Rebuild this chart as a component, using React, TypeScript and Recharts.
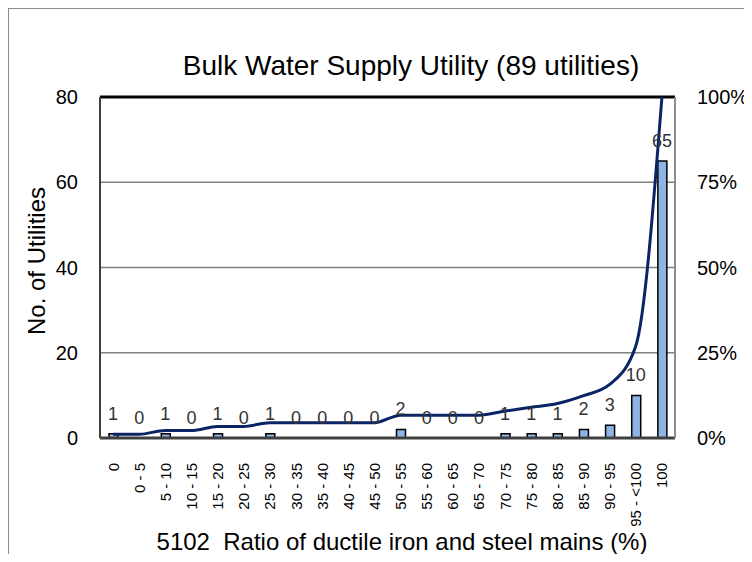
import {
  ComposedChart,
  Bar,
  Line,
  XAxis,
  YAxis,
  CartesianGrid,
  LabelList,
  ReferenceLine,
} from "recharts";

const categories = [
  "0", "0 - 5", "5 - 10", "10 - 15", "15 - 20", "20 - 25", "25 - 30", "30 - 35",
  "35 - 40", "40 - 45", "45 - 50", "50 - 55", "55 - 60", "60 - 65", "65 - 70",
  "70 - 75", "75 - 80", "80 - 85", "85 - 90", "90 - 95", "95 - <100", "100",
];
const counts = [1, 0, 1, 0, 1, 0, 1, 0, 0, 0, 0, 2, 0, 0, 0, 1, 1, 1, 2, 3, 10, 65];
const cumulativePct = [
  1.1, 1.1, 2.2, 2.2, 3.4, 3.4, 4.5, 4.5, 4.5, 4.5, 4.5, 6.7, 6.7, 6.7, 6.7,
  7.9, 9.0, 10.1, 12.4, 15.7, 27.0, 100,
];
const leftTicks = [0, 20, 40, 60, 80];
const rightTicks = [0, 25, 50, 75, 100];

const data = categories.map((cat, i) => ({ cat, count: counts[i], cum: cumulativePct[i] }));

const FONT = "'Liberation Sans', Arial, sans-serif";
const LABEL_FONT = "'Liberation Sans Narrow', 'Arial Narrow', 'Liberation Sans', Arial, sans-serif";

function RotatedTick({ x, y, payload }: any) {
  return (
    <text
      x={x}
      y={y + 25}
      transform={`rotate(-90, ${x}, ${y + 25})`}
      textAnchor="end"
      dominantBaseline="central"
      fontSize={15}
      fill="#000"
      fontFamily={FONT}
      style={{ whiteSpace: "pre" }}
    >
      {payload.value}
    </text>
  );
}

export default function App() {
  return (
    <div
      style={{
        position: "relative",
        width: 752,
        height: 562,
        margin: -8,
        overflow: "hidden",
        background: "#fff",
        fontFamily: FONT,
      }}
    >
      <div
        style={{
          position: "absolute",
          left: 7,
          top: 7,
          width: 800,
          height: 600,
          border: "2px solid #8c8c8c",
        }}
      />
      <div
        style={{
          position: "absolute",
          left: 0,
          width: 822,
          top: 49,
          textAlign: "center",
          fontSize: 28,
          lineHeight: "34px",
          color: "#000",
        }}
      >
        Bulk Water Supply Utility (89 utilities)
      </div>
      <div
        style={{
          position: "absolute",
          left: 37 - 110,
          top: 261 - 15,
          width: 220,
          textAlign: "center",
          fontSize: 24,
          lineHeight: "30px",
          transform: "rotate(-90deg)",
        }}
      >
        No. of Utilities
      </div>
      <div
        style={{
          position: "absolute",
          left: 0,
          width: 804,
          top: 528,
          textAlign: "center",
          fontSize: 24,
          lineHeight: "28px",
          whiteSpace: "pre",
        }}
      >
        5102  Ratio of ductile iron and steel mains (%)
      </div>
      <div style={{ position: "absolute", left: 0, top: 0 }}>
        <ComposedChart
          width={752}
          height={562}
          data={data}
          margin={{ top: 97, right: 0, left: 0, bottom: 0 }}
        >
          <CartesianGrid vertical={false} stroke="#808080" strokeWidth={1.5} yAxisId="left" />
          <XAxis
            dataKey="cat"
            interval={0}
            tick={<RotatedTick />}
            tickLine={false}
            tickSize={0}
            tickMargin={0}
            height={124}
            axisLine={{ stroke: "#404040", strokeWidth: 3 }}
          />
          <YAxis
            yAxisId="left"
            domain={[0, 80]}
            ticks={leftTicks}
            width={100}
            tickLine={false}
            tickSize={6}
            tickMargin={16}
            axisLine={{ stroke: "#404040", strokeWidth: 2 }}
            tick={{ fontSize: 20, fill: "#000", fontFamily: FONT }}
          />
          <YAxis
            yAxisId="right"
            orientation="right"
            domain={[0, 100]}
            ticks={rightTicks}
            width={77}
            tickLine={false}
            tickSize={6}
            tickMargin={16}
            tickFormatter={(v: number) => `${v}%`}
            axisLine={{ stroke: "#8c8c8c", strokeWidth: 2 }}
            tick={{ fontSize: 20, fill: "#000", fontFamily: FONT, textAnchor: "start" }}
          />
          <ReferenceLine yAxisId="left" y={80} stroke="#000" strokeWidth={3} />
          <Bar
            yAxisId="left"
            dataKey="count"
            barSize={9}
            fill="#8DB4E2"
            stroke="#000"
            strokeWidth={1.5}
            isAnimationActive={false}
          />
          <Line
            yAxisId="left"
            dataKey="count"
            stroke="none"
            dot={false}
            activeDot={false}
            legendType="none"
            isAnimationActive={false}
          >
            <LabelList
              dataKey="count"
              position="top"
              offset={14}
              fontSize={18}
              fill="#333"
              fontFamily={LABEL_FONT}
            />
          </Line>
          <Line
            yAxisId="right"
            dataKey="cum"
            type="monotone"
            stroke="#0B2466"
            strokeWidth={3}
            dot={false}
            isAnimationActive={false}
          />
        </ComposedChart>
      </div>
    </div>
  );
}
